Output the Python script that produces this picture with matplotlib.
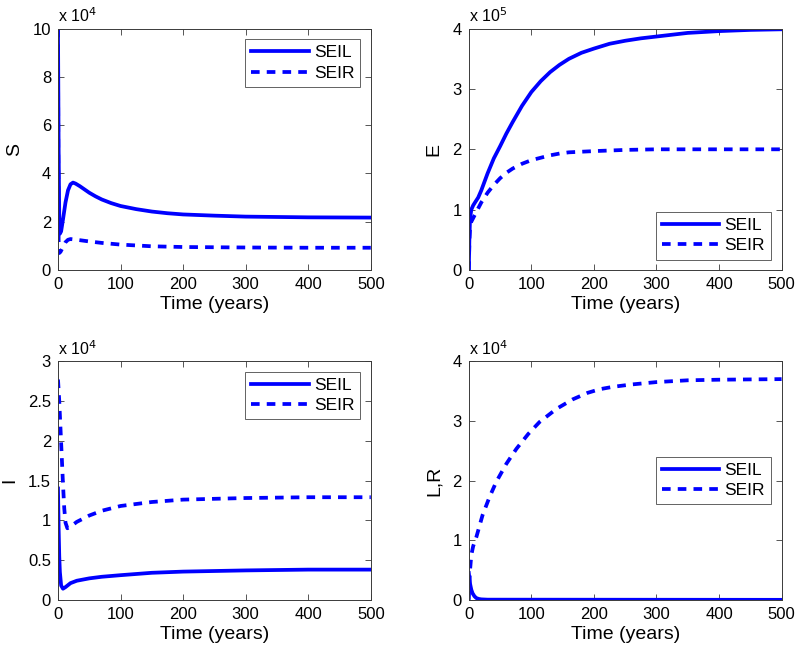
import numpy as np
import matplotlib.pyplot as plt
from matplotlib.ticker import FormatStrFormatter

plt.rcParams['font.family'] = ['Liberation Sans', 'DejaVu Sans']

# time points and values (y in units of the axis multiplier)
t_S_seil = [0, 1, 2, 3, 5, 8, 12, 16, 20, 24, 28, 35, 40, 50, 60, 70, 85, 100, 125, 150, 175, 200, 250, 300, 400, 500]
S_seil = [10, 5, 2.2, 1.5, 1.6, 2.1, 2.8, 3.3, 3.55, 3.62, 3.58, 3.47, 3.38, 3.2, 3.05, 2.92, 2.77, 2.65, 2.52, 2.42, 2.35, 2.3, 2.25, 2.21, 2.18, 2.17]
t_S_seir = [0, 0.5, 1, 2, 4, 8, 12, 16, 20, 30, 50, 70, 100, 150, 200, 300, 400, 500]
S_seir = [10, 4, 1.2, 0.7, 0.75, 0.95, 1.15, 1.25, 1.28, 1.25, 1.18, 1.12, 1.05, 0.98, 0.95, 0.93, 0.92, 0.92]

t_E_seil = [0, 1, 2, 4, 7, 10, 15, 20, 25, 30, 40, 50, 60, 70, 85, 100, 115, 130, 145, 160, 180, 200, 225, 250, 275, 300, 350, 400, 450, 500]
E_seil = [0, 0.55, 0.85, 1.0, 1.07, 1.12, 1.2, 1.32, 1.46, 1.6, 1.85, 2.05, 2.26, 2.45, 2.72, 2.95, 3.13, 3.28, 3.4, 3.5, 3.6, 3.67, 3.75, 3.8, 3.84, 3.87, 3.93, 3.96, 3.98, 3.99]
t_E_seir = [0, 1, 2, 4, 7, 10, 15, 20, 30, 40, 50, 60, 70, 85, 100, 115, 130, 145, 160, 180, 200, 250, 300, 400, 500]
E_seir = [0, 0.5, 0.7, 0.8, 0.86, 0.92, 1.02, 1.12, 1.28, 1.41, 1.52, 1.61, 1.68, 1.76, 1.82, 1.86, 1.9, 1.93, 1.95, 1.96, 1.97, 1.99, 2.0, 2.0, 2.0]

t_I_seil = [0, 1, 2, 3, 5, 8, 12, 20, 30, 50, 70, 100, 150, 200, 300, 400, 500]
I_seil = [1.4, 0.9, 0.55, 0.35, 0.18, 0.14, 0.16, 0.21, 0.24, 0.27, 0.29, 0.31, 0.34, 0.355, 0.37, 0.38, 0.38]
t_I_seir = [0, 2, 4, 6, 8, 10, 12, 15, 20, 30, 50, 70, 100, 150, 200, 300, 400, 500]
I_seir = [2.77, 2.5, 2.15, 1.8, 1.45, 1.15, 0.97, 0.9, 0.92, 0.98, 1.06, 1.12, 1.18, 1.23, 1.26, 1.28, 1.29, 1.29]

t_L_seil = [0, 1, 2, 4, 6, 9, 12, 16, 20, 30, 500]
L_seil = [0.45, 0.35, 0.27, 0.17, 0.11, 0.06, 0.03, 0.015, 0.008, 0.003, 0.0]
t_R_seir = [0, 1, 2, 4, 7, 12, 22, 33, 44, 60, 76, 95, 113, 140, 166, 190, 209, 230, 260, 300, 350, 400, 500]
R_seir = [0, 0.3, 0.5, 0.75, 0.9, 1.05, 1.42, 1.72, 1.98, 2.28, 2.53, 2.78, 2.98, 3.2, 3.36, 3.47, 3.53, 3.57, 3.61, 3.65, 3.68, 3.69, 3.70]

panels = [
    # (t_seil, y_seil, t_seir, y_seir, ylabel, ymax, ystep, exponent, legend loc)
    (t_S_seil, S_seil, t_S_seir, S_seir, 'S', 10, 2, 4, 'upper right'),
    (t_E_seil, E_seil, t_E_seir, E_seir, 'E', 4, 1, 5, 'lower right'),
    (t_I_seil, I_seil, t_I_seir, I_seir, 'I', 3, 0.5, 4, 'upper right'),
    (t_L_seil, L_seil, t_R_seir, R_seir, 'L,R', 4, 1, 4, 'center right'),
]

positions = [
    [0.0725, 0.586, 0.391, 0.370],
    [0.586, 0.586, 0.391, 0.370],
    [0.0725, 0.080, 0.391, 0.366],
    [0.586, 0.080, 0.391, 0.366],
]

fig = plt.figure(figsize=(8, 6.52), dpi=100)
ax_col = '#3a3a3a'

for pos, (t1, y1, t2, y2, lab, ymax, ystep, ex, loc) in zip(positions, panels):
    ax = fig.add_axes(pos)
    ax.plot(t1, y1, color='blue', lw=2.7, label='SEIL', solid_joinstyle='round')
    ax.plot(t2, y2, color='blue', lw=2.7, dashes=(2.3, 1.9), label='SEIR')
    ax.set_xlim(0, 500)
    ax.set_ylim(0, ymax)
    ax.set_xticks(np.arange(0, 501, 100))
    ax.set_yticks(np.arange(0, ymax + 1e-9, ystep))
    ax.yaxis.set_major_formatter(FormatStrFormatter('%g'))
    ax.tick_params(direction='in', top=True, right=True, length=4, width=0.6,
                   color=ax_col, labelsize=12, pad=5)
    for s in ax.spines.values():
        s.set_color(ax_col)
        s.set_linewidth(0.7)
    ax.set_xlabel('Time (years)', fontsize=14, labelpad=3)
    ax.set_ylabel(lab, fontsize=14, labelpad=7)
    ax.text(0.0, 1.015, 'x 10$^{%d}$' % ex, transform=ax.transAxes,
            fontsize=11.5, ha='left', va='bottom')
    leg = ax.legend(loc=loc, fontsize=12.5, frameon=True, fancybox=False,
                    handlelength=3.3, borderaxespad=0.6, labelspacing=0.3,
                    handletextpad=0.3, borderpad=0.35)
    leg.get_frame().set_edgecolor(ax_col)
    leg.get_frame().set_linewidth(0.7)

fig.savefig('out.png', dpi=100)
